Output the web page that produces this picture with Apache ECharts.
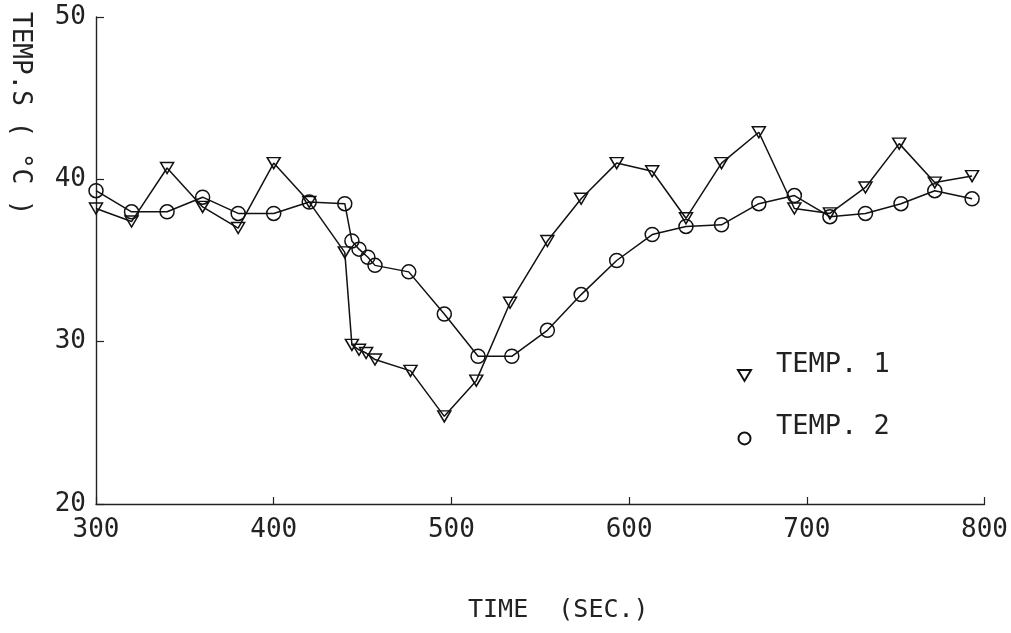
<!DOCTYPE html>
<html>
<head>
<meta charset="utf-8">
<script src="https://cdn.jsdelivr.net/npm/echarts@6/dist/echarts.min.js"></script>
<style>html,body{margin:0;padding:0;background:#fff;}#chart{width:1011px;height:633px;}</style>
</head>
<body>
<div id="chart"></div>
<script>
// TEMP. 1 (triangles)
const time1 = [300,320,340,360,380,400,420,440,444,448,452,457,477,496,514,533,554,573,593,613,632,652,673,693,713,733,752,772,793];
const temp1 = [38.2,37.4,40.7,38.3,37.0,41.0,38.6,35.5,29.8,29.5,29.3,28.9,28.2,25.4,27.6,32.4,36.2,38.8,41.0,40.5,37.6,41.0,42.9,38.2,37.9,39.5,42.2,39.8,40.2];
// TEMP. 2 (circles)
const time2 = [300,320,340,360,380,400,420,440,444,448,453,457,476,496,515,534,554,573,593,613,632,652,673,693,713,733,753,772,793];
const temp2 = [39.3,38.0,38.0,38.9,37.9,37.9,38.6,38.5,36.2,35.7,35.2,34.7,34.3,31.7,29.1,29.1,30.7,32.9,35.0,36.6,37.1,37.2,38.5,39.0,37.7,37.9,38.5,39.3,38.8];
const seriesNames = ['TEMP. 1', 'TEMP. 2'];
const xTicks = [300, 400, 500, 600, 700, 800];
const yTicks = [20, 30, 40, 50];
const xTitle = 'TIME  (SEC.)';
const yTitle = 'TEMP.S ( °C )';

const font = 'DejaVu Sans Mono';
const ink = '#222';
const tri = 'path://M0,0L12,0L6,10Z';

const chart = echarts.init(document.getElementById('chart'), null, {renderer: 'canvas'});
const pairs = (xs, ys) => xs.map((x, i) => [x, ys[i]]);

chart.setOption({
  animation: false,
  backgroundColor: '#fff',
  grid: {left: 96, right: 26, top: 17, bottom: 129},
  xAxis: {
    type: 'value', min: xTicks[0], max: xTicks[xTicks.length - 1], interval: 100,
    axisLine: {lineStyle: {color: ink, width: 1.4}},
    axisTick: {inside: true, length: 7, lineStyle: {color: ink, width: 1.2}},
    axisLabel: {color: ink, fontFamily: font, fontSize: 26, margin: 13},
    splitLine: {show: false}
  },
  yAxis: {
    type: 'value', min: yTicks[0], max: yTicks[yTicks.length - 1], interval: 10,
    axisLine: {show: true, lineStyle: {color: ink, width: 1.4}},
    axisTick: {show: true, inside: true, length: 8, lineStyle: {color: ink, width: 1.2}},
    axisLabel: {color: ink, fontFamily: font, fontSize: 26, margin: 10},
    splitLine: {show: false}
  },
  legend: {
    orient: 'vertical', left: 732, top: 346, itemGap: 32,
    itemWidth: 13, itemHeight: 12,
    formatter: name => '{t|' + name + '}',
    textStyle: {
      color: ink, fontFamily: font, fontSize: 27,
      rich: {t: {color: ink, fontFamily: font, fontSize: 27, padding: [0, 0, 22, 20]}}
    },
    data: [{name: seriesNames[0], icon: tri}, {name: seriesNames[1], icon: 'circle'}]
  },
  graphic: [
    {type: 'text', left: 468, top: 598, style: {text: xTitle, fontFamily: font, fontSize: 25, fill: ink}},
    {type: 'text', x: 33, y: 12, rotation: -Math.PI / 2, style: {text: yTitle, fontFamily: font, fontSize: 26, fill: ink}}
  ],
  series: [
    {
      name: seriesNames[0], type: 'line', data: pairs(time1, temp1),
      symbol: tri, symbolSize: [13, 11],
      lineStyle: {color: '#111', width: 1.5},
      itemStyle: {color: 'rgba(255,255,255,0)', borderColor: '#111', borderWidth: 1.5}
    },
    {
      name: seriesNames[1], type: 'line', data: pairs(time2, temp2),
      symbol: 'circle', symbolSize: 14,
      lineStyle: {color: '#111', width: 1.5},
      itemStyle: {color: 'rgba(255,255,255,0)', borderColor: '#111', borderWidth: 1.5}
    }
  ]
});
</script>
</body>
</html>
